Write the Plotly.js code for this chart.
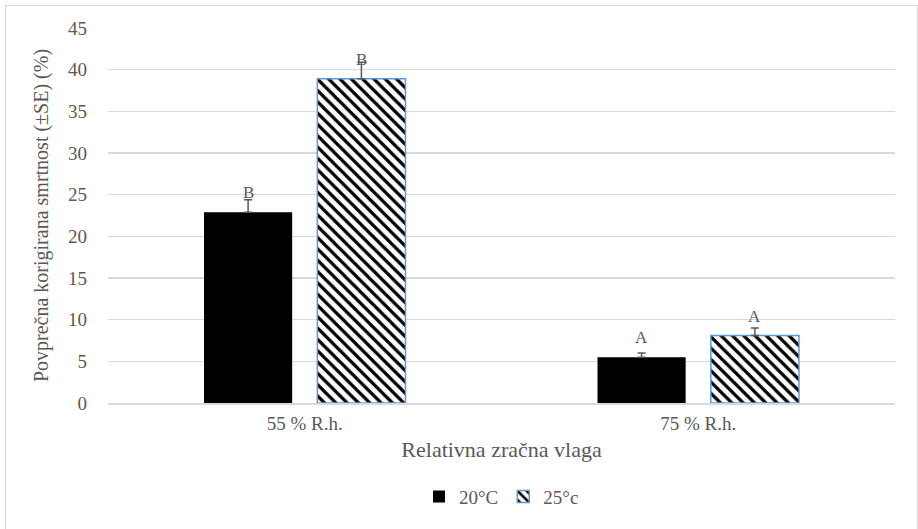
<!DOCTYPE html>
<html>
<head>
<meta charset="utf-8">
<script src="https://cdn.plot.ly/plotly-3.0.1.min.js"></script>
<style>
html,body{margin:0;padding:0;background:#fff;overflow:hidden;}
#wrap{position:relative;width:918px;height:529px;}
#chart{width:918px;height:529px;}
#frame{position:absolute;left:5px;top:5px;width:911px;height:540px;border:1px solid #d9d9d9;pointer-events:none;}
</style>
</head>
<body>
<div id="wrap"><div id="chart"></div><div id="frame"></div></div>
<script>
const categories = ["55 % R.h.", "75 % R.h."];
const series20 = [22.9, 5.5];
const se20 = [1.5, 0.5];
const letters20 = ["B", "A"];
const series25 = [38.9, 8.1];
const se25 = [2.0, 0.9];
const letters25 = ["B", "A"];
const yTicks = [0, 5, 10, 15, 20, 25, 30, 35, 40, 45];

const barW = 0.224;
const off20 = -0.256;
const off25 = 0.032;
const fnt = "Times New Roman, Liberation Serif, serif";
const gray = "#595959";

const traces = [
  {
    type: "bar", name: "20°C", x: categories, y: series20,
    width: barW, offset: off20,
    marker: {color: "#000000", line: {width: 0}},
    error_y: {type: "data", symmetric: false, array: se20, arrayminus: se20.map(() => 0),
              color: gray, thickness: 1.5, width: 4}
  },
  {
    type: "bar", name: "25°c", x: categories, y: series25,
    width: barW, offset: off25,
    marker: {color: "#ffffff", line: {color: "#5b9bd5", width: 1.5},
             pattern: {shape: "\\", fgcolor: "#000000", bgcolor: "#ffffff", size: 8, solidity: 0.4}},
    error_y: {type: "data", symmetric: false, array: se25, arrayminus: se25.map(() => 0),
              color: gray, thickness: 1.5, width: 4}
  }
];

const annotations = [];
categories.forEach((c, i) => {
  annotations.push({x: i + off20 + barW / 2, y: series20[i], xref: "x", yref: "y", text: letters20[i],
    showarrow: false, yanchor: "bottom", yshift: 8, font: {family: fnt, size: 17, color: gray}});
  annotations.push({x: i + off25 + barW / 2, y: series25[i], xref: "x", yref: "y", text: letters25[i],
    showarrow: false, yanchor: "bottom", yshift: 8, font: {family: fnt, size: 17, color: gray}});
});

const layout = {
  width: 918, height: 529,
  margin: {l: 108, r: 23, t: 28, b: 126, autoexpand: false},
  paper_bgcolor: "#ffffff", plot_bgcolor: "#ffffff",
  font: {family: fnt, color: gray, size: 18},
  showlegend: true,
  legend: {orientation: "h", x: 0.5, xanchor: "center", y: -0.25, yanchor: "middle",
           font: {family: fnt, size: 19, color: gray}},
  xaxis: {
    type: "category", range: [-0.5, 1.5], showgrid: false, zeroline: false,
    showline: true, linecolor: "#d9d9d9", linewidth: 1.5, ticks: "",
    ticklabelstandoff: 3, automargin: false,
    tickfont: {family: fnt, size: 19, color: gray},
    title: {text: "Relativna zračna vlaga", font: {family: fnt, size: 22, color: gray}, standoff: 8}
  },
  yaxis: {
    range: [0, 45], tickvals: yTicks, ticktext: yTicks.map(String),
    showgrid: true, gridcolor: "#d9d9d9", gridwidth: 1.5, zeroline: false,
    showline: false, ticks: "", ticklabelstandoff: 20, automargin: false,
    tickfont: {family: fnt, size: 19, color: gray},
    title: {text: "Povprečna korigirana smrtnost (±SE) (%)", font: {family: fnt, size: 20, color: gray}, standoff: 14}
  },
  annotations: annotations
};

Plotly.newPlot("chart", traces, layout, {displayModeBar: false, staticPlot: true});
</script>
</body>
</html>
